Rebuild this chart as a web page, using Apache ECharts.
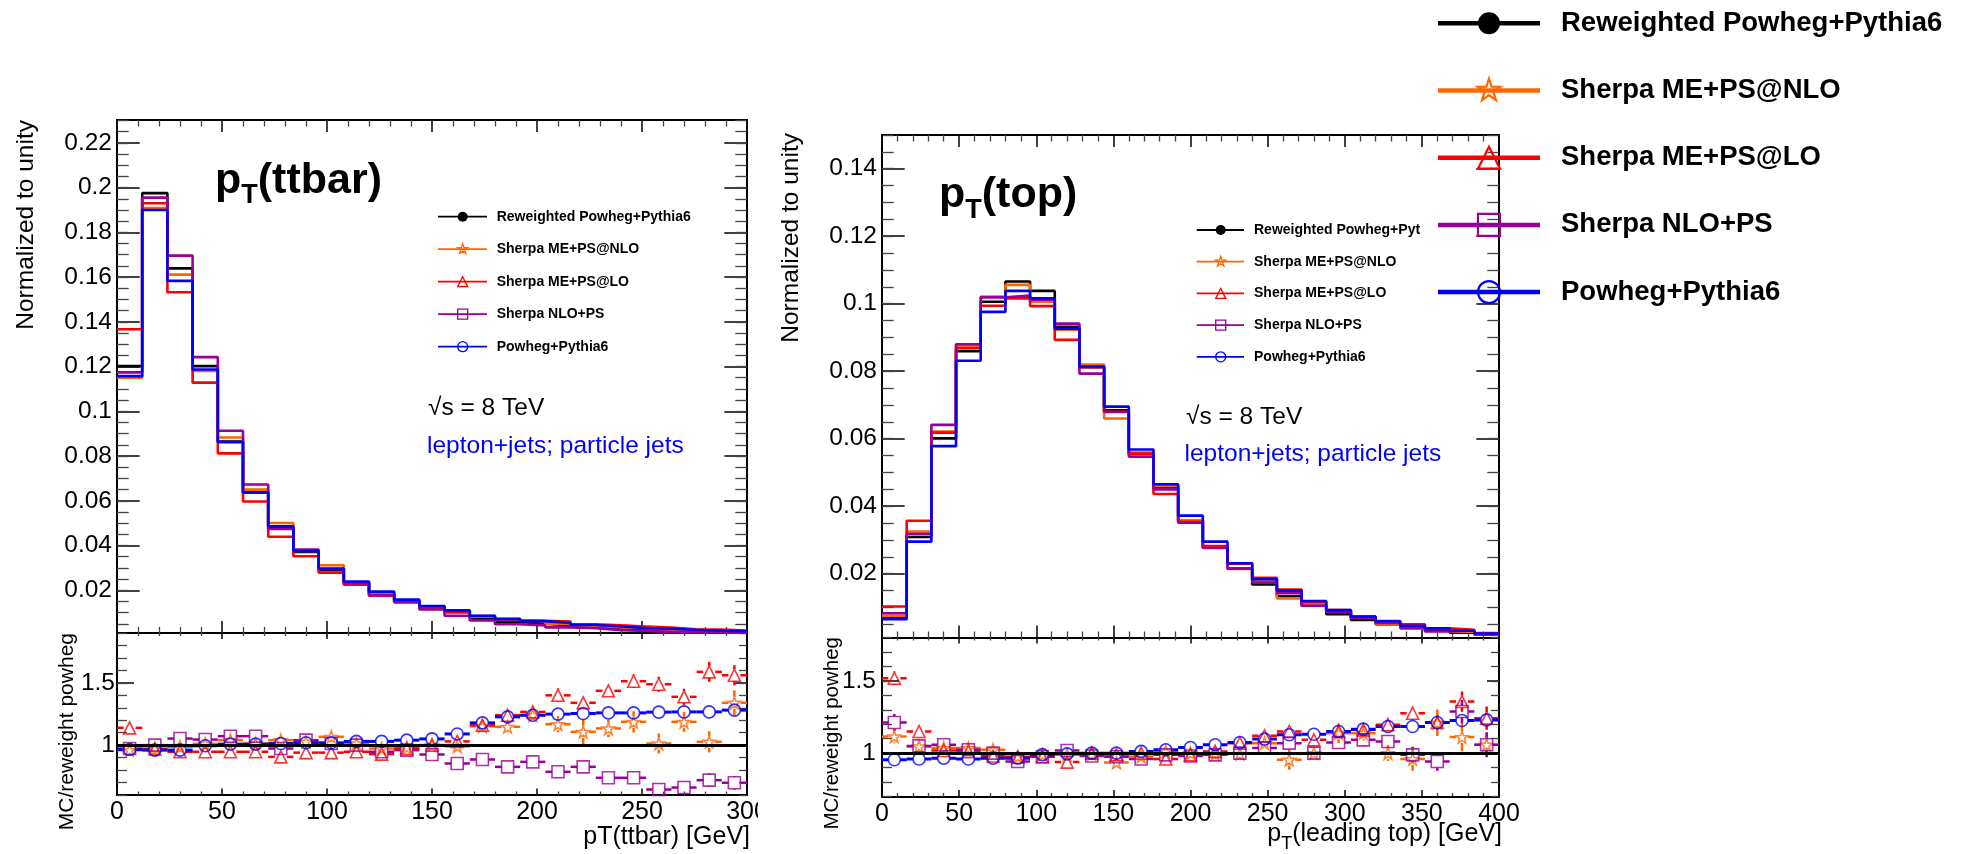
<!DOCTYPE html>
<html lang="en">
<head>
<meta charset="utf-8">
<title>pT(ttbar) and pT(top): generator comparison</title>
<script src="https://cdn.jsdelivr.net/npm/echarts@6/dist/echarts.min.js"></script>
<style>
  html, body { margin: 0; padding: 0; background: #ffffff; }
  #chart { width: 1977px; height: 854px; }
</style>
</head>
<body>
<div id="chart"></div>
<script>
// ---------------- samples ----------------
const sampleNames = ['Reweighted Powheg+Pythia6', 'Sherpa ME+PS@NLO', 'Sherpa ME+PS@LO', 'Sherpa NLO+PS', 'Powheg+Pythia6'];
const sampleColors = ['#000000', '#ff6600', '#ff0000', '#990099', '#0000ff'];
const sampleMarkers = ['dot', 'star', 'triangle', 'square', 'circle'];

// ---------------- pT(ttbar): 25 bins of 12 GeV, normalized to unity ----------------
const ttbarBinWidth = 12;
const ttbarMax = 300;
const ttbarReweighted = [0.1202, 0.1975, 0.1639, 0.1202, 0.0865, 0.0637, 0.0483, 0.0371, 0.0291, 0.0232, 0.0188, 0.0152, 0.0124, 0.0101, 0.0073, 0.0058, 0.0050, 0.0043, 0.0036, 0.0030, 0.0025, 0.0022, 0.0018, 0.0015, 0.0013];
const ttbarSherpaNLO = [0.1150, 0.1908, 0.1611, 0.1180, 0.0883, 0.0650, 0.0501, 0.0376, 0.0312, 0.0235, 0.0183, 0.0149, 0.0124, 0.0100, 0.0084, 0.0067, 0.0062, 0.0050, 0.0040, 0.0034, 0.0030, 0.0022, 0.0021, 0.0015, 0.0017];
const ttbarSherpaLO = [0.1367, 0.1930, 0.1532, 0.1128, 0.0812, 0.0597, 0.0439, 0.0352, 0.0279, 0.0225, 0.0176, 0.0150, 0.0124, 0.0103, 0.0085, 0.0072, 0.0063, 0.0060, 0.0048, 0.0043, 0.0038, 0.0033, 0.0025, 0.0024, 0.0020];
const ttbarSherpaNLOPS = [0.1174, 0.1955, 0.1696, 0.1242, 0.0913, 0.0673, 0.0474, 0.0382, 0.0295, 0.0232, 0.0178, 0.0146, 0.0114, 0.0086, 0.0065, 0.0048, 0.0043, 0.0034, 0.0030, 0.0022, 0.0018, 0.0014, 0.0012, 0.0011, 0.0009];
const ttbarPowheg = [0.1157, 0.1900, 0.1583, 0.1187, 0.0862, 0.0637, 0.0486, 0.0376, 0.0297, 0.0239, 0.0194, 0.0158, 0.0130, 0.0110, 0.0086, 0.0071, 0.0062, 0.0054, 0.0045, 0.0038, 0.0031, 0.0028, 0.0023, 0.0019, 0.0017];

// MC / reweighted Powheg, with statistical uncertainties
const ttbarRatioSherpaNLO = [0.960, 0.970, 0.987, 1.010, 1.040, 1.013, 1.040, 1.027, 1.067, 1.013, 0.973, 0.980, 1.000, 0.990, 1.152, 1.147, 1.240, 1.168, 1.107, 1.134, 1.187, 1.013, 1.187, 1.027, 1.340];
const ttbarRatioSherpaLO = [1.139, 0.970, 0.947, 0.947, 0.947, 0.947, 0.906, 0.940, 0.940, 0.947, 0.928, 0.973, 1.000, 1.030, 1.160, 1.240, 1.267, 1.400, 1.340, 1.436, 1.513, 1.489, 1.388, 1.588, 1.561];
const ttbarRatioSherpaNLOPS = [0.973, 1.000, 1.053, 1.045, 1.072, 1.072, 0.973, 1.040, 1.013, 1.000, 0.947, 0.960, 0.925, 0.853, 0.885, 0.826, 0.866, 0.786, 0.826, 0.738, 0.738, 0.644, 0.660, 0.719, 0.698];
const ttbarRatioPowheg = [0.965, 0.960, 0.960, 0.995, 1.008, 1.008, 1.013, 1.019, 1.019, 1.030, 1.030, 1.040, 1.050, 1.090, 1.179, 1.227, 1.240, 1.249, 1.254, 1.259, 1.259, 1.265, 1.267, 1.267, 1.281];
const ttbarErrSherpaNLO = [0.02, 0.01, 0.01, 0.01, 0.015, 0.015, 0.02, 0.02, 0.02, 0.02, 0.02, 0.025, 0.025, 0.03, 0.035, 0.04, 0.045, 0.065, 0.10, 0.07, 0.085, 0.08, 0.08, 0.085, 0.10];
const ttbarErrSherpaLO = [0.02, 0.01, 0.01, 0.01, 0.015, 0.015, 0.02, 0.02, 0.02, 0.02, 0.025, 0.025, 0.03, 0.03, 0.035, 0.04, 0.045, 0.055, 0.045, 0.045, 0.055, 0.06, 0.065, 0.08, 0.08];
const ttbarErrSherpaNLOPS = [0.015, 0.01, 0.01, 0.01, 0.015, 0.015, 0.015, 0.015, 0.02, 0.02, 0.02, 0.02, 0.025, 0.025, 0.03, 0.03, 0.035, 0.035, 0.04, 0.04, 0.045, 0.045, 0.05, 0.055, 0.055];
const ttbarErrPowheg = [0.005, 0.005, 0.005, 0.005, 0.005, 0.005, 0.006, 0.006, 0.007, 0.007, 0.008, 0.008, 0.009, 0.01, 0.01, 0.011, 0.012, 0.013, 0.014, 0.015, 0.016, 0.017, 0.018, 0.02, 0.02];

// ---------------- pT(leading top): 25 bins of 16 GeV, normalized to unity ----------------
const topBinWidth = 16;
const topMax = 400;
const topReweighted = [0.0071, 0.0309, 0.0601, 0.0859, 0.1006, 0.1066, 0.1038, 0.0932, 0.0812, 0.0684, 0.0556, 0.0455, 0.0358, 0.0279, 0.0215, 0.0168, 0.0133, 0.0105, 0.0080, 0.0063, 0.0050, 0.0039, 0.0031, 0.0025, 0.0019];
const topSherpaNLO = [0.0075, 0.0325, 0.0621, 0.0876, 0.1021, 0.1056, 0.1006, 0.0923, 0.0820, 0.0660, 0.0559, 0.0460, 0.0358, 0.0278, 0.0214, 0.0180, 0.0127, 0.0105, 0.0091, 0.0072, 0.0050, 0.0037, 0.0038, 0.0028, 0.0020];
const topSherpaLO = [0.0103, 0.0357, 0.0618, 0.0868, 0.0994, 0.1016, 0.0993, 0.0893, 0.0812, 0.0680, 0.0556, 0.0436, 0.0354, 0.0282, 0.0230, 0.0188, 0.0153, 0.0115, 0.0092, 0.0073, 0.0060, 0.0050, 0.0038, 0.0034, 0.0024];
const topSherpaNLOPS = [0.0083, 0.0318, 0.0641, 0.0880, 0.1019, 0.1024, 0.1012, 0.0941, 0.0793, 0.0679, 0.0547, 0.0450, 0.0351, 0.0276, 0.0215, 0.0174, 0.0142, 0.0105, 0.0086, 0.0069, 0.0054, 0.0039, 0.0029, 0.0032, 0.0020];
const topPowheg = [0.0065, 0.0295, 0.0578, 0.0831, 0.0976, 0.1038, 0.1016, 0.0926, 0.0814, 0.0695, 0.0568, 0.0465, 0.0372, 0.0295, 0.0231, 0.0184, 0.0150, 0.0119, 0.0092, 0.0073, 0.0059, 0.0046, 0.0038, 0.0031, 0.0023];

const topRatioSherpaNLO = [1.115, 1.046, 1.035, 1.035, 1.023, 0.977, 0.990, 0.990, 0.995, 0.935, 0.977, 1.012, 1.000, 0.995, 0.995, 1.069, 0.954, 1.000, 1.138, 1.138, 1.000, 0.959, 1.210, 1.111, 1.058];
const topRatioSherpaLO = [1.518, 1.150, 1.018, 1.010, 0.980, 0.972, 0.975, 0.938, 1.000, 0.990, 1.000, 0.959, 0.988, 1.012, 1.069, 1.120, 1.150, 1.092, 1.150, 1.161, 1.196, 1.276, 1.212, 1.357, 1.242];
const topRatioSherpaNLOPS = [1.212, 1.050, 1.058, 1.023, 1.000, 0.942, 0.975, 1.018, 0.980, 0.975, 0.959, 0.988, 0.980, 0.988, 1.000, 1.035, 1.069, 1.000, 1.074, 1.092, 1.081, 0.988, 0.942, 1.288, 1.058];
const topRatioPowheg = [0.954, 0.959, 0.965, 0.959, 0.965, 0.965, 0.990, 0.995, 1.000, 1.000, 1.012, 1.023, 1.039, 1.058, 1.074, 1.097, 1.127, 1.131, 1.150, 1.166, 1.184, 1.184, 1.212, 1.226, 1.230];
const topErrSherpaNLO = [0.046, 0.02, 0.015, 0.012, 0.012, 0.012, 0.012, 0.013, 0.014, 0.015, 0.017, 0.02, 0.022, 0.025, 0.028, 0.032, 0.069, 0.04, 0.069, 0.05, 0.055, 0.08, 0.092, 0.098, 0.08];
const topErrSherpaLO = [0.046, 0.025, 0.015, 0.012, 0.012, 0.012, 0.012, 0.013, 0.014, 0.015, 0.017, 0.02, 0.022, 0.025, 0.028, 0.032, 0.035, 0.04, 0.04, 0.045, 0.045, 0.045, 0.05, 0.07, 0.08];
const topErrSherpaNLOPS = [0.058, 0.02, 0.015, 0.012, 0.012, 0.012, 0.012, 0.013, 0.014, 0.015, 0.017, 0.02, 0.022, 0.025, 0.028, 0.03, 0.035, 0.035, 0.04, 0.045, 0.045, 0.057, 0.063, 0.08, 0.086];
const topErrPowheg = [0.01, 0.005, 0.005, 0.005, 0.005, 0.005, 0.005, 0.006, 0.006, 0.007, 0.007, 0.008, 0.009, 0.01, 0.011, 0.012, 0.013, 0.014, 0.015, 0.016, 0.017, 0.018, 0.02, 0.022, 0.024];

// ---------------- axis tick labels ----------------
const ttbarYLabels = [0.02, 0.04, 0.06, 0.08, 0.1, 0.12, 0.14, 0.16, 0.18, 0.2, 0.22];
const topYLabels = [0.02, 0.04, 0.06, 0.08, 0.1, 0.12, 0.14];
const ratioYLabels = [1, 1.5];

// ---------------- drawing ----------------
const FONT = '"Liberation Sans", Arial, Helvetica, sans-serif';
const measureCtx = document.createElement('canvas').getContext('2d');
function textWidth(str, size, weight) {
  measureCtx.font = (weight || 'normal') + ' ' + size + 'px ' + FONT;
  return measureCtx.measureText(str).width;
}
function tickValues(lo, hi, step) {
  const out = [];
  const k0 = Math.ceil(lo / step - 1e-9), k1 = Math.floor(hi / step + 1e-9);
  for (let k = k0; k <= k1; k++) out.push(+(k * step).toFixed(6));
  return out;
}

const MAJOR_TICK = { color: '#111', width: 1.6 };
const MINOR_TICK = { color: '#444', width: 1.3 };
const FRAME = { color: '#000', width: 2 };

// x axes of one pad: bottom (with optional labels) and a mirrored top axis
function padXAxes(gridIndex, max, t) {
  const base = { gridIndex, type: 'value', min: 0, max, interval: 50, splitLine: { show: false }, minorSplitLine: { show: false } };
  return [
    Object.assign({}, base, {
      position: 'bottom',
      axisLine: { show: true, onZero: false, lineStyle: FRAME },
      axisTick: { show: true, inside: true, length: t.bMaj, lineStyle: MAJOR_TICK },
      minorTick: { show: true, splitNumber: 5, length: t.bMin, lineStyle: MINOR_TICK },
      axisLabel: { show: !!t.labels, color: '#000', fontFamily: FONT, fontSize: 25, margin: 5 }
    }),
    Object.assign({}, base, {
      position: 'top',
      axisLine: { show: true, onZero: false, lineStyle: FRAME },
      axisTick: { show: true, inside: true, length: t.tMaj, lineStyle: MAJOR_TICK },
      minorTick: { show: true, splitNumber: 5, length: t.tMin, lineStyle: MINOR_TICK },
      axisLabel: { show: false }
    })
  ];
}

// y axes of one pad: labelled left axis, left minor ticks, mirrored right axis and its minor ticks
function padYAxes(gridIndex, min, max, majors, minors, labels, t) {
  const base = { gridIndex, type: 'value', min, max, splitLine: { show: false }, minorSplitLine: { show: false } };
  return [
    Object.assign({}, base, {
      position: 'left',
      axisLine: { show: true, onZero: false, lineStyle: FRAME },
      axisTick: { show: true, inside: true, length: t.lMaj, customValues: majors, lineStyle: MAJOR_TICK },
      axisLabel: { show: true, customValues: labels, color: '#000', fontFamily: FONT, fontSize: 24.5, margin: t.margin }
    }),
    Object.assign({}, base, {
      position: 'left',
      axisLine: { show: false, onZero: false },
      axisTick: { show: true, inside: true, length: t.lMin, customValues: minors, lineStyle: MINOR_TICK },
      axisLabel: { show: false }
    }),
    Object.assign({}, base, {
      position: 'right',
      axisLine: { show: true, onZero: false, lineStyle: FRAME },
      axisTick: { show: true, inside: true, length: t.rMaj, customValues: majors, lineStyle: MAJOR_TICK },
      axisLabel: { show: false }
    }),
    Object.assign({}, base, {
      position: 'right',
      axisLine: { show: false, onZero: false },
      axisTick: { show: true, inside: true, length: t.rMin, customValues: minors, lineStyle: MINOR_TICK },
      axisLabel: { show: false }
    })
  ];
}

// step histogram drawn from bin contents
function histSeries(values, width, sample, pad) {
  const pts = values.map((v, i) => [i * width, v]);
  pts.push([values.length * width, values[values.length - 1]]);
  return {
    type: 'line', name: sampleNames[sample], xAxisIndex: pad * 2, yAxisIndex: pad * 4,
    step: 'end', data: pts, symbol: 'none', showSymbol: false, clip: true,
    lineStyle: { color: sampleColors[sample], width: 2.6 }, itemStyle: { color: sampleColors[sample] },
    silent: true, animation: false, z: 2
  };
}

const STAR_PATH = 'path://M50,0L61.76,33.82L97.55,34.55L69.02,56.18L79.39,90.45L50,70L20.61,90.45L30.98,56.18L2.45,34.55L38.24,33.82Z';
const ratioSymbol = { star: STAR_PATH, triangle: 'triangle', square: 'rect', circle: 'circle' };
const MARKER = 12;

// ratio points: open marker plus x/y error bars that stop at the marker edge
function ratioSeries(ratios, errors, width, sample, pad, barWidth) {
  const color = sampleColors[sample];
  const pts = ratios.map((r, i) => [(i + 0.5) * width, r, errors[i]]);
  const half = width / 2, gap = MARKER / 2;
  return [
    {
      type: 'custom', xAxisIndex: pad * 2, yAxisIndex: pad * 4, data: pts, clip: true,
      silent: true, animation: false, z: 3,
      renderItem(params, api) {
        const x = api.value(0), y = api.value(1), e = api.value(2);
        const c = api.coord([x, y]);
        const l = api.coord([x - half, y]);
        const r = api.coord([x + half, y]);
        const t = api.coord([x, y + e]);
        const b = api.coord([x, y - e]);
        const style = { stroke: color, lineWidth: barWidth };
        const kids = [
          { type: 'line', shape: { x1: l[0], y1: c[1], x2: c[0] - gap, y2: c[1] }, style },
          { type: 'line', shape: { x1: c[0] + gap, y1: c[1], x2: r[0], y2: c[1] }, style }
        ];
        if (t[1] < c[1] - gap) kids.push({ type: 'line', shape: { x1: c[0], y1: t[1], x2: c[0], y2: c[1] - gap }, style });
        if (b[1] > c[1] + gap) kids.push({ type: 'line', shape: { x1: c[0], y1: c[1] + gap, x2: c[0], y2: b[1] }, style });
        return { type: 'group', children: kids };
      }
    },
    {
      type: 'scatter', xAxisIndex: pad * 2, yAxisIndex: pad * 4,
      data: pts.map(p => [p[0], p[1]]),
      symbol: ratioSymbol[sampleMarkers[sample]], symbolSize: MARKER,
      itemStyle: { color: 'rgba(255,255,255,0)', borderColor: color, borderWidth: 1.6 },
      silent: true, animation: false, z: 4
    }
  ];
}

// horizontal reference line at ratio = 1
function unityLine(pad) {
  return {
    type: 'line', xAxisIndex: pad * 2, yAxisIndex: pad * 4, data: [], silent: true, animation: false, z: 2,
    markLine: { silent: true, symbol: 'none', label: { show: false }, animation: false,
      lineStyle: { color: '#000', width: 2.8, type: 'solid' }, data: [{ yAxis: 1 }] }
  };
}

// ---------------- legend and text graphics ----------------
function markerGraphic(kind, cx, cy, r, color, lw) {
  const stroke = { fill: 'none', stroke: color, lineWidth: lw };
  if (kind === 'dot') return { type: 'circle', shape: { cx, cy, r }, style: { fill: color }, z: 60 };
  if (kind === 'circle') return { type: 'circle', shape: { cx, cy, r }, style: stroke, z: 60 };
  if (kind === 'square') return { type: 'rect', shape: { x: cx - r, y: cy - r, width: 2 * r, height: 2 * r }, style: stroke, z: 60 };
  if (kind === 'triangle') return { type: 'polygon', shape: { points: [[cx, cy - r], [cx + r, cy + r], [cx - r, cy + r]] }, style: stroke, z: 60 };
  const pts = [];
  for (let k = 0; k < 10; k++) {
    const a = -Math.PI / 2 + k * Math.PI / 5;
    const rr = (k % 2) ? r * 0.42 : r * 1.08;
    pts.push([cx + rr * Math.cos(a), cy + rr * Math.sin(a)]);
  }
  return { type: 'polygon', shape: { points: pts }, style: stroke, z: 60 };
}

function textEl(x, y, text, size, opt) {
  opt = opt || {};
  const style = {
    text, fontFamily: FONT, fontSize: size, fontWeight: opt.weight || 'normal',
    fill: opt.color || '#000', align: opt.align || 'left', verticalAlign: 'middle'
  };
  if (opt.width) { style.width = opt.width; style.overflow = 'truncate'; style.ellipsis = ''; }
  return { type: 'text', x, y, rotation: opt.rotation || 0, z: 70, silent: true, style };
}

function legendGraphics(c) {
  const els = [];
  sampleNames.forEach((name, i) => {
    const y = c.y0 + i * c.dy;
    els.push({ type: 'line', shape: { x1: c.x1, y1: y, x2: c.x2, y2: y }, style: { stroke: sampleColors[i], lineWidth: c.lw }, z: 55 });
    els.push(markerGraphic(sampleMarkers[i], c.xm, y, c.r, sampleColors[i], c.mlw));
    els.push(textEl(c.xt, y, name, c.font, { weight: 'bold', width: c.textWidth }));
  });
  return els;
}

// text made of pieces of different sizes (subscripts)
function pieceText(x, y, pieces, align) {
  const w = pieces.map(p => textWidth(p.text, p.size, p.weight));
  const total = w.reduce((a, b) => a + b, 0);
  let cx = align === 'right' ? x - total : x;
  return pieces.map((p, i) => {
    const el = textEl(cx, y + (p.dy || 0), p.text, p.size, { weight: p.weight });
    cx += w[i];
    return el;
  });
}

const graphics = [].concat(
  // axis titles
  textEl(26, 120, 'Normalized to unity', 24.5, { rotation: Math.PI / 2, align: 'right' }),
  textEl(791, 133, 'Normalized to unity', 24.5, { rotation: Math.PI / 2, align: 'right' }),
  textEl(67, 633, 'MC/reweight powheg', 21, { rotation: Math.PI / 2, align: 'right' }),
  textEl(832, 637, 'MC/reweight powheg', 20.5, { rotation: Math.PI / 2, align: 'right' }),
  textEl(750, 837, 'pT(ttbar) [GeV]', 25, { align: 'right' }),
  pieceText(1502, 834, [
    { text: 'p', size: 25 }, { text: 'T', size: 18, dy: 10 }, { text: '(leading top) [GeV]', size: 25 }
  ], 'right'),
  // pad titles
  pieceText(215, 181, [
    { text: 'p', size: 43, weight: 'bold' }, { text: 'T', size: 27, weight: 'bold', dy: 15 }, { text: '(ttbar)', size: 43, weight: 'bold' }
  ], 'left'),
  pieceText(939, 195.5, [
    { text: 'p', size: 43, weight: 'bold' }, { text: 'T', size: 27, weight: 'bold', dy: 15 }, { text: '(top)', size: 43, weight: 'bold' }
  ], 'left'),
  // annotations
  textEl(428, 408.5, '\u221As = 8 TeV', 24.5),
  textEl(427, 446, 'lepton+jets; particle jets', 24.5, { color: '#0000ff' }),
  textEl(1186, 417, '\u221As = 8 TeV', 24.5),
  textEl(1184.5, 454, 'lepton+jets; particle jets', 24.5, { color: '#0000ff' }),
  // legends
  legendGraphics({ y0: 216.7, dy: 32.5, x1: 438, x2: 487, xm: 462.7, xt: 496.7, font: 14, r: 5, lw: 1.8, mlw: 1.3 }),
  legendGraphics({ y0: 230, dy: 31.7, x1: 1196.7, x2: 1244, xm: 1220.7, xt: 1254, font: 14, r: 5, lw: 1.8, mlw: 1.3, textWidth: 172 }),
  legendGraphics({ y0: 23.3, dy: 67.2, x1: 1438, x2: 1540, xm: 1489, xt: 1561, font: 27.5, r: 11, lw: 4.5, mlw: 2.2 }),
  // the left pad ends here and cuts its last x label
  [{ type: 'rect', shape: { x: 758, y: 797, width: 40, height: 30 }, style: { fill: '#ffffff' }, z: 80, silent: true }]
);

const ttbarTopTicks = { lMaj: 22.7, lMin: 11.7, rMaj: 22.7, rMin: 11.7, margin: 5 };
const ratioTicksL = { lMaj: 17, lMin: 10, rMaj: 12, rMin: 8, margin: 2 };
const ratioTicksR = { lMaj: 17, lMin: 10, rMaj: 12, rMin: 8, margin: 6 };

const option = {
  animation: false,
  backgroundColor: '#ffffff',
  textStyle: { fontFamily: FONT },
  grid: [
    { left: 117, top: 120, width: 630, height: 513, containLabel: false, outerBoundsMode: 'none' },
    { left: 117, top: 633, width: 630, height: 162, containLabel: false, outerBoundsMode: 'none' },
    { left: 882, top: 135, width: 617, height: 502.5, containLabel: false, outerBoundsMode: 'none' },
    { left: 882, top: 637.5, width: 617, height: 159, containLabel: false, outerBoundsMode: 'none' }
  ],
  xAxis: [].concat(
    padXAxes(0, ttbarMax, { bMaj: 12, bMin: 6, tMaj: 12, tMin: 6.5 }),
    padXAxes(1, ttbarMax, { bMaj: 6.5, bMin: 3.5, tMaj: 6, tMin: 3, labels: true }),
    padXAxes(2, topMax, { bMaj: 12, bMin: 6, tMaj: 12, tMin: 6.5 }),
    padXAxes(3, topMax, { bMaj: 6.5, bMin: 3.5, tMaj: 6, tMin: 3, labels: true })
  ),
  yAxis: [].concat(
    padYAxes(0, 0.0009, 0.2302, ttbarYLabels, tickValues(0.0009, 0.2302, 0.005), ttbarYLabels, ttbarTopTicks),
    padYAxes(1, 0.6, 1.9, ratioYLabels, tickValues(0.6, 1.9, 0.1), ratioYLabels, ratioTicksL),
    padYAxes(2, 0.0011, 0.15, topYLabels, tickValues(0.0011, 0.15, 0.005), topYLabels, ttbarTopTicks),
    padYAxes(3, 0.7, 1.8, ratioYLabels, tickValues(0.7, 1.8, 0.1), ratioYLabels, ratioTicksR)
  ),
  series: [].concat(
    // pT(ttbar) distributions
    histSeries(ttbarReweighted, ttbarBinWidth, 0, 0),
    histSeries(ttbarSherpaNLO, ttbarBinWidth, 1, 0),
    histSeries(ttbarSherpaLO, ttbarBinWidth, 2, 0),
    histSeries(ttbarSherpaNLOPS, ttbarBinWidth, 3, 0),
    histSeries(ttbarPowheg, ttbarBinWidth, 4, 0),
    // pT(ttbar) ratios
    unityLine(1),
    ratioSeries(ttbarRatioSherpaNLO, ttbarErrSherpaNLO, ttbarBinWidth, 1, 1, 2.5),
    ratioSeries(ttbarRatioSherpaLO, ttbarErrSherpaLO, ttbarBinWidth, 2, 1, 2.5),
    ratioSeries(ttbarRatioSherpaNLOPS, ttbarErrSherpaNLOPS, ttbarBinWidth, 3, 1, 2.5),
    ratioSeries(ttbarRatioPowheg, ttbarErrPowheg, ttbarBinWidth, 4, 1, 3),
    // pT(top) distributions
    histSeries(topReweighted, topBinWidth, 0, 2),
    histSeries(topSherpaNLO, topBinWidth, 1, 2),
    histSeries(topSherpaLO, topBinWidth, 2, 2),
    histSeries(topSherpaNLOPS, topBinWidth, 3, 2),
    histSeries(topPowheg, topBinWidth, 4, 2),
    // pT(top) ratios
    unityLine(3),
    ratioSeries(topRatioSherpaNLO, topErrSherpaNLO, topBinWidth, 1, 3, 2.5),
    ratioSeries(topRatioSherpaLO, topErrSherpaLO, topBinWidth, 2, 3, 2.5),
    ratioSeries(topRatioSherpaNLOPS, topErrSherpaNLOPS, topBinWidth, 3, 3, 2.5),
    ratioSeries(topRatioPowheg, topErrPowheg, topBinWidth, 4, 3, 3)
  ),
  graphic: graphics
};

const chart = echarts.init(document.getElementById('chart'), null, { renderer: 'canvas', width: 1977, height: 854 });
chart.setOption(option);
</script>
</body>
</html>
